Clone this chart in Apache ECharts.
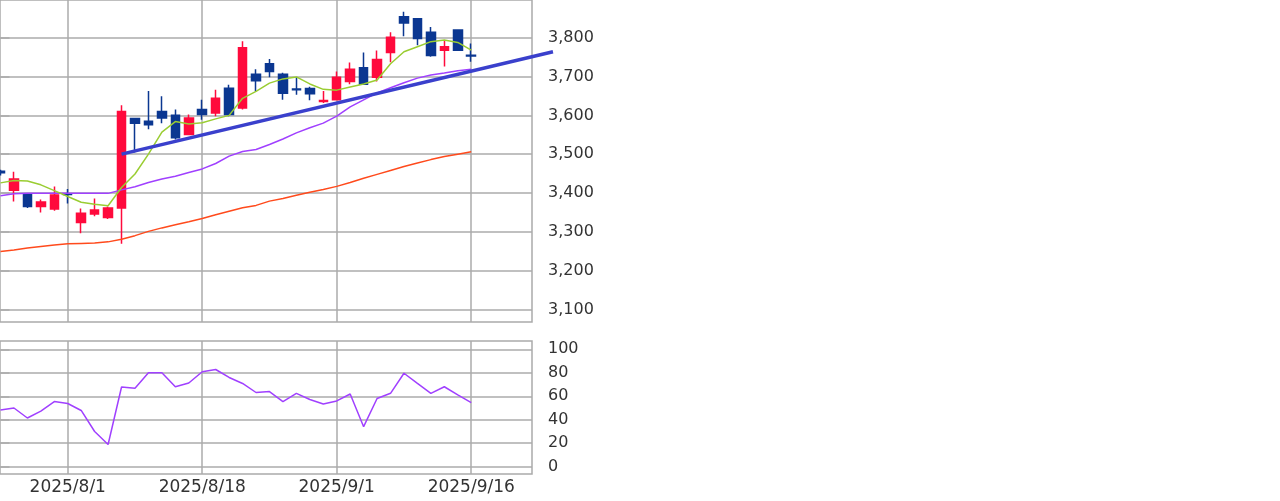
<!DOCTYPE html>
<html>
<head>
<meta charset="utf-8">
<script src="https://cdn.jsdelivr.net/npm/echarts@6/dist/echarts.min.js"></script>
<style>
html, body { margin: 0; padding: 0; background: #fff; }
#chart { width: 1280px; height: 501px; }
</style>
</head>
<body>
<div id="chart"></div>
<script>
// trading days, index 0 = 2025/7/25
const dates = [
  '2025/7/25', '2025/7/28', '2025/7/29', '2025/7/30', '2025/7/31', '2025/8/1',
  '2025/8/4', '2025/8/5', '2025/8/6', '2025/8/7', '2025/8/8', '2025/8/12',
  '2025/8/13', '2025/8/14', '2025/8/15', '2025/8/18', '2025/8/19', '2025/8/20',
  '2025/8/21', '2025/8/22', '2025/8/25', '2025/8/26', '2025/8/27', '2025/8/28',
  '2025/8/29', '2025/9/1', '2025/9/2', '2025/9/3', '2025/9/4', '2025/9/5',
  '2025/9/8', '2025/9/9', '2025/9/10', '2025/9/11', '2025/9/12', '2025/9/16'
]

// [open, close, low, high]
const ohlc = [
  [3456, 3452, 3445, 3460], [3407, 3436, 3378, 3455], [3397, 3365, 3361, 3399],
  [3365, 3377, 3350, 3383], [3359, 3395, 3354, 3417], [3398, 3396, 3373, 3410],
  [3324, 3348, 3296, 3360], [3346, 3356, 3340, 3386], [3337, 3361, 3333, 3365],
  [3361, 3610, 3269, 3626], [3592, 3580, 3504, 3593], [3585, 3576, 3564, 3663],
  [3610, 3593, 3580, 3649], [3600, 3542, 3538, 3615], [3551, 3593, 3549, 3602],
  [3615, 3602, 3589, 3640], [3606, 3644, 3598, 3666], [3670, 3602, 3598, 3679],
  [3619, 3774, 3615, 3791], [3706, 3689, 3662, 3719], [3733, 3713, 3698, 3745],
  [3706, 3657, 3640, 3710], [3668, 3666, 3653, 3698], [3669, 3656, 3639, 3674],
  [3636, 3638, 3632, 3663], [3640, 3698, 3638, 3713], [3687, 3719, 3680, 3736],
  [3723, 3680, 3679, 3762], [3698, 3744, 3687, 3767], [3762, 3801, 3737, 3814],
  [3854, 3838, 3804, 3867], [3849, 3798, 3781, 3850], [3814, 3754, 3751, 3828],
  [3768, 3777, 3726, 3794], [3820, 3768, 3766, 3822], [3755, 3753, 3738, 3785]
]

const ma5 = [
  3426, 3432, 3431, 3421, 3406, 3391, 3376, 3371, 3367, 3414, 3449, 3500,
  3557, 3584, 3578, 3581, 3591, 3600, 3644, 3662, 3683, 3694, 3699, 3681,
  3667, 3665, 3673, 3681, 3691, 3733, 3764, 3777, 3790, 3794, 3788, 3768
]

const ma25 = [
  3393, 3398, 3399, 3399, 3399, 3399, 3399, 3399, 3399, 3408, 3416, 3427,
  3436, 3443, 3453, 3462, 3476, 3495, 3507, 3512, 3525, 3539, 3555, 3568,
  3580, 3598, 3622, 3640, 3658, 3671, 3684, 3696, 3704, 3709, 3715, 3719
]

const ma75 = [
  3249, 3253, 3258, 3262, 3266, 3269, 3270, 3271, 3274, 3281, 3290, 3301,
  3310, 3318, 3326, 3334, 3344, 3353, 3362, 3368, 3379, 3386, 3394, 3402,
  3409, 3417, 3427, 3438, 3448, 3458, 3468, 3477, 3486, 3494, 3500, 3506
]

const rsi = [
  48.3, 50, 41.5, 47.4, 55.5, 53.8, 47.9, 30, 18.9, 67.9, 66.8, 80.1,
  80.1, 68.1, 71.3, 80.9, 82.8, 76, 70.9, 63.2, 64, 55.5, 62.4, 57.2,
  53.4, 56, 61.9, 34.1, 58.1, 62.5, 79.6, 71, 62.5, 68.1, 61.1, 54.5
]

// hand-drawn support line: [day index, price], runs past the plot edge
const trendLine = [[9, 3500], [41.07, 3764]]

const priceTicks = [3100, 3200, 3300, 3400, 3500, 3600, 3700, 3800]
const rsiTicks = [0, 20, 40, 60, 80, 100]
const dateTicks = ['2025/8/1', '2025/8/18', '2025/9/1', '2025/9/16']

const dateIdx = dateTicks.map(d => dates.indexOf(d))
const xy = arr => arr.map((v, i) => [i, v])

const gridColor = '#ababab'
const textStyle = { color: '#333', fontFamily: 'DejaVu Sans' }
const X_MIN = -0.037
const PX_PER_DAY = 13.5
const Y_MIN = 3067.5
const Y_MAX = 3897.3

const xBase = {
  type: 'value',
  min: X_MIN,
  max: X_MIN + 534 / PX_PER_DAY,
  axisLine: { show: false },
  axisTick: { show: false, customValues: dateIdx },
  axisLabel: { show: false, customValues: dateIdx },
  splitLine: { show: true, lineStyle: { color: gridColor, width: 1.5 } }
}

const hidden = { axisLine: { show: false }, axisTick: { show: false }, axisLabel: { show: false }, splitLine: { show: false } }

const chart = echarts.init(document.getElementById('chart'))

chart.setOption({
  animation: false,
  backgroundColor: '#fff',
  grid: [
    { left: -2, right: 748, top: -2, height: 324, show: true, borderColor: gridColor, borderWidth: 1.5, backgroundColor: '#fff' },
    { left: -2, right: 748, top: 341, height: 133, show: true, borderColor: gridColor, borderWidth: 1.5, backgroundColor: '#fff' },
    // wider overlay grid, same scale, so the trend line can cross the right border
    { left: -2, right: 718, top: -2, height: 324, show: false }
  ],
  xAxis: [
    { ...xBase, gridIndex: 0 },
    {
      ...xBase,
      gridIndex: 1,
      axisLabel: {
        show: true,
        customValues: dateIdx,
        margin: 5,
        fontSize: 17,
        ...textStyle,
        formatter: v => dates[v]
      }
    },
    { type: 'value', gridIndex: 2, min: X_MIN, max: X_MIN + 564 / PX_PER_DAY, ...hidden }
  ],
  yAxis: [
    {
      type: 'value',
      gridIndex: 0,
      position: 'right',
      min: Y_MIN,
      max: Y_MAX,
      axisLine: { show: false },
      axisTick: { show: true, length: 9, customValues: priceTicks, lineStyle: { color: gridColor, width: 1.5 } },
      axisLabel: {
        customValues: priceTicks,
        margin: 16,
        fontSize: 16,
        ...textStyle,
        formatter: v => v.toLocaleString('en-US')
      },
      splitLine: { show: true, lineStyle: { color: gridColor, width: 1.5 } }
    },
    {
      type: 'value',
      gridIndex: 1,
      position: 'right',
      min: -6.22,
      max: 107.07,
      axisLine: { show: false },
      axisTick: { show: true, length: 9, customValues: rsiTicks, lineStyle: { color: gridColor, width: 1.5 } },
      axisLabel: { customValues: rsiTicks, margin: 16, fontSize: 16, ...textStyle },
      splitLine: { show: true, lineStyle: { color: gridColor, width: 1.5 } }
    },
    { type: 'value', gridIndex: 2, min: Y_MIN, max: Y_MAX, ...hidden }
  ],
  series: [
    {
      name: 'candle',
      type: 'candlestick',
      xAxisIndex: 0,
      yAxisIndex: 0,
      barWidth: 9,
      encode: { x: 0, y: [1, 2, 3, 4] },
      data: ohlc.map((d, i) => [i, ...d]),
      itemStyle: {
        color: '#ff0a3c',
        color0: '#0b3791',
        borderColor: '#ff0a3c',
        borderColor0: '#0b3791',
        borderWidth: 1.5
      }
    },
    {
      name: 'MA75',
      type: 'line',
      data: xy(ma75),
      symbol: 'none',
      lineStyle: { color: '#ff4a1c', width: 1.5 }
    },
    {
      name: 'MA25',
      type: 'line',
      data: xy(ma25),
      symbol: 'none',
      lineStyle: { color: '#a040ff', width: 1.5 }
    },
    {
      name: 'MA5',
      type: 'line',
      data: xy(ma5),
      symbol: 'none',
      lineStyle: { color: '#9acd32', width: 1.5 }
    },
    {
      name: 'trend',
      type: 'line',
      xAxisIndex: 2,
      yAxisIndex: 2,
      data: trendLine,
      symbol: 'none',
      clip: false,
      z: 5,
      lineStyle: { color: '#3a40cc', width: 3.5 }
    },
    {
      name: 'RSI',
      type: 'line',
      xAxisIndex: 1,
      yAxisIndex: 1,
      data: xy(rsi),
      symbol: 'none',
      lineStyle: { color: '#a040ff', width: 1.5 }
    }
  ]
})
</script>
</body>
</html>
